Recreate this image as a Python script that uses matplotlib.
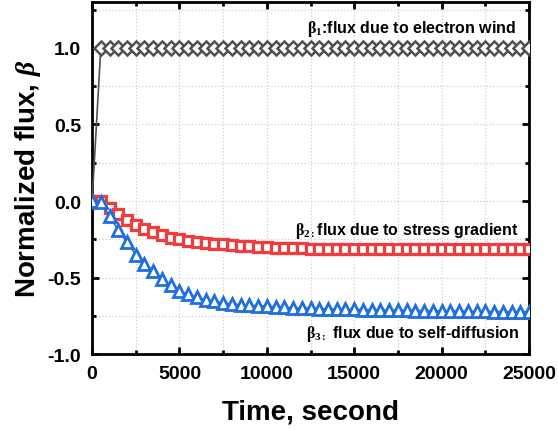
import matplotlib
matplotlib.use('Agg')
from matplotlib import pyplot as plt
from matplotlib.ticker import MultipleLocator

# time points, every 500 s
time = list(range(0, 25001, 500))

beta1 = [0.0] + [1.0] * 50

beta2 = [0.0, 0.0, -0.043, -0.087, -0.126, -0.159, -0.18, -0.202, -0.224, -0.239,
         -0.25, -0.261, -0.267, -0.274, -0.278, -0.283, -0.288, -0.292, -0.296, -0.299,
         -0.302, -0.304, -0.306, -0.308, -0.309, -0.310, -0.311, -0.312, -0.313, -0.313,
         -0.314, -0.314, -0.314, -0.315, -0.315, -0.315, -0.315, -0.315, -0.315, -0.315,
         -0.315, -0.315, -0.315, -0.315, -0.315, -0.315, -0.315, -0.315, -0.315, -0.315,
         -0.315]

beta3 = [0.0, -0.005, -0.10, -0.19, -0.27, -0.35, -0.41, -0.46, -0.51, -0.55,
         -0.59, -0.61, -0.63, -0.645, -0.655, -0.665, -0.672, -0.677, -0.681, -0.684,
         -0.688, -0.691, -0.694, -0.697, -0.699, -0.701, -0.703, -0.705, -0.706, -0.707,
         -0.708, -0.709, -0.710, -0.711, -0.712, -0.713, -0.714, -0.715, -0.716, -0.717,
         -0.718, -0.719, -0.719, -0.720, -0.721, -0.721, -0.722, -0.722, -0.723, -0.723,
         -0.724]

plt.rcParams['font.family'] = 'Liberation Sans'
plt.rcParams['font.weight'] = 'bold'
plt.rcParams['mathtext.fontset'] = 'custom'
plt.rcParams['mathtext.rm'] = 'Liberation Serif'
plt.rcParams['mathtext.it'] = 'Liberation Serif:italic'

fig = plt.figure(figsize=(5.58, 4.31), dpi=100)
ax = fig.add_axes([0.165, 0.176, 0.783, 0.817])

ax.plot(time, beta1, color='#505050', lw=1.2, marker='D', markersize=7.5,
        markerfacecolor='white', markeredgewidth=1.8, zorder=3)
ax.plot(time, beta2, color='#f03c3c', lw=1.2, marker='s', markersize=7,
        markerfacecolor='white', markeredgewidth=2.3, zorder=3)
ax.plot(time, beta3, color='#1f6fe0', lw=1.2, marker='^', markersize=8,
        markerfacecolor='white', markeredgewidth=2.0, zorder=4)

ax.set_xlim(0, 25000)
ax.set_ylim(-1.0, 1.3)
ax.xaxis.set_major_locator(MultipleLocator(5000))
ax.xaxis.set_minor_locator(MultipleLocator(2500))
ax.yaxis.set_major_locator(MultipleLocator(0.5))
ax.yaxis.set_minor_locator(MultipleLocator(0.25))
ax.set_yticks([-1.0, -0.5, 0.0, 0.5, 1.0])
ax.set_yticklabels(['-1.0', '-0.5', '0.0', '0.5', '1.0'])

ax.grid(True, which='both', color='#d0d0d0', linestyle=':', linewidth=0.9)
ax.set_axisbelow(True)

for s in ax.spines.values():
    s.set_linewidth(2)
ax.tick_params(which='both', direction='in', top=True, right=True, width=2)
ax.tick_params(which='major', length=5, labelsize=14, pad=8)
ax.tick_params(which='minor', length=3)

ax.set_xlabel('Time, second', fontsize=20, fontweight='bold', labelpad=12)
ax.set_ylabel(r'Normalized flux, $\beta$', fontsize=20, fontweight='bold', labelpad=3)

ax.text(24250, 1.13, r'$\mathrm{\beta_1}$:flux due to electron wind',
        fontsize=11.5, fontweight='bold', ha='right', va='center')
ax.text(24430, -0.19, r'$\mathrm{\beta_{2:}}$flux due to stress gradient',
        fontsize=11.5, fontweight='bold', ha='right', va='center')
ax.text(24430, -0.863, r'$\mathrm{\beta_{3:}}$ flux due to self-diffusion',
        fontsize=11.5, fontweight='bold', ha='right', va='center')

fig.savefig('out.png', dpi=100)
